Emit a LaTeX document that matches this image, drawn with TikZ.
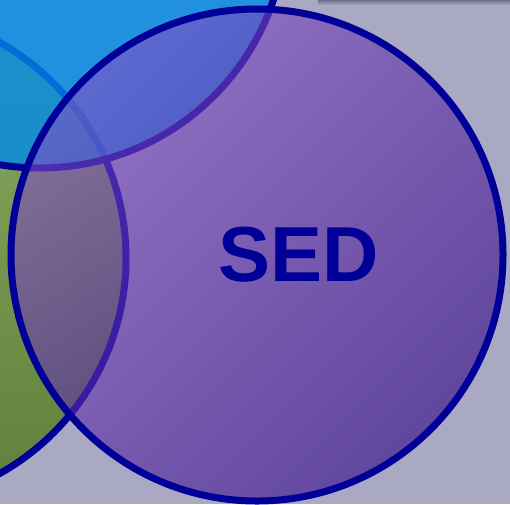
\documentclass[tikz,border=0pt]{standalone}
\usepackage{fontspec}
\setmainfont{Liberation Sans}
\definecolor{bgc}{RGB}{169,169,195}
\definecolor{edgec}{RGB}{0,0,153}
\definecolor{bluefill}{RGB}{0,138,231}
\definecolor{greentop}{RGB}{140,170,100}
\definecolor{greenbot}{RGB}{95,128,58}
\definecolor{purplea}{RGB}{132,80,198}
\definecolor{purpleb}{RGB}{50,5,135}
\definecolor{shadowc}{RGB}{110,110,145}
\tikzset{
  ring/.style={draw=edgec, line width=7pt},
  lbl/.style={text=edgec, font=\bfseries\fontsize{78}{78}\selectfont, inner sep=0pt}
}
\begin{document}
\begin{tikzpicture}[x=1pt,y=1pt]
\path[use as bounding box] (0,0) rectangle (510,-504);
\clip (0,0) rectangle (510,-504);
\fill[bgc] (0,0) rectangle (510,-504);
% shadow strip at top right
\shade[top color=shadowc, bottom color=bgc] (318,0) rectangle (512,-5);
% green circle
\shade[top color=greentop, bottom color=greenbot] (-121,-258) circle[radius=247];
\draw[ring] (-121,-258) circle[radius=247];
% blue circle
\fill[bluefill, fill opacity=0.8] (40,78) circle[radius=246];
\draw[ring] (40,78) circle[radius=246];
% purple circle
\shade[top color=purplea, bottom color=purpleb, shading angle=45, opacity=0.6] (257,-255) circle[radius=246];
\draw[ring] (257,-255) circle[radius=246];
\node[lbl] (sed) at (299,-255) {SED};
\end{tikzpicture}
\end{document}
